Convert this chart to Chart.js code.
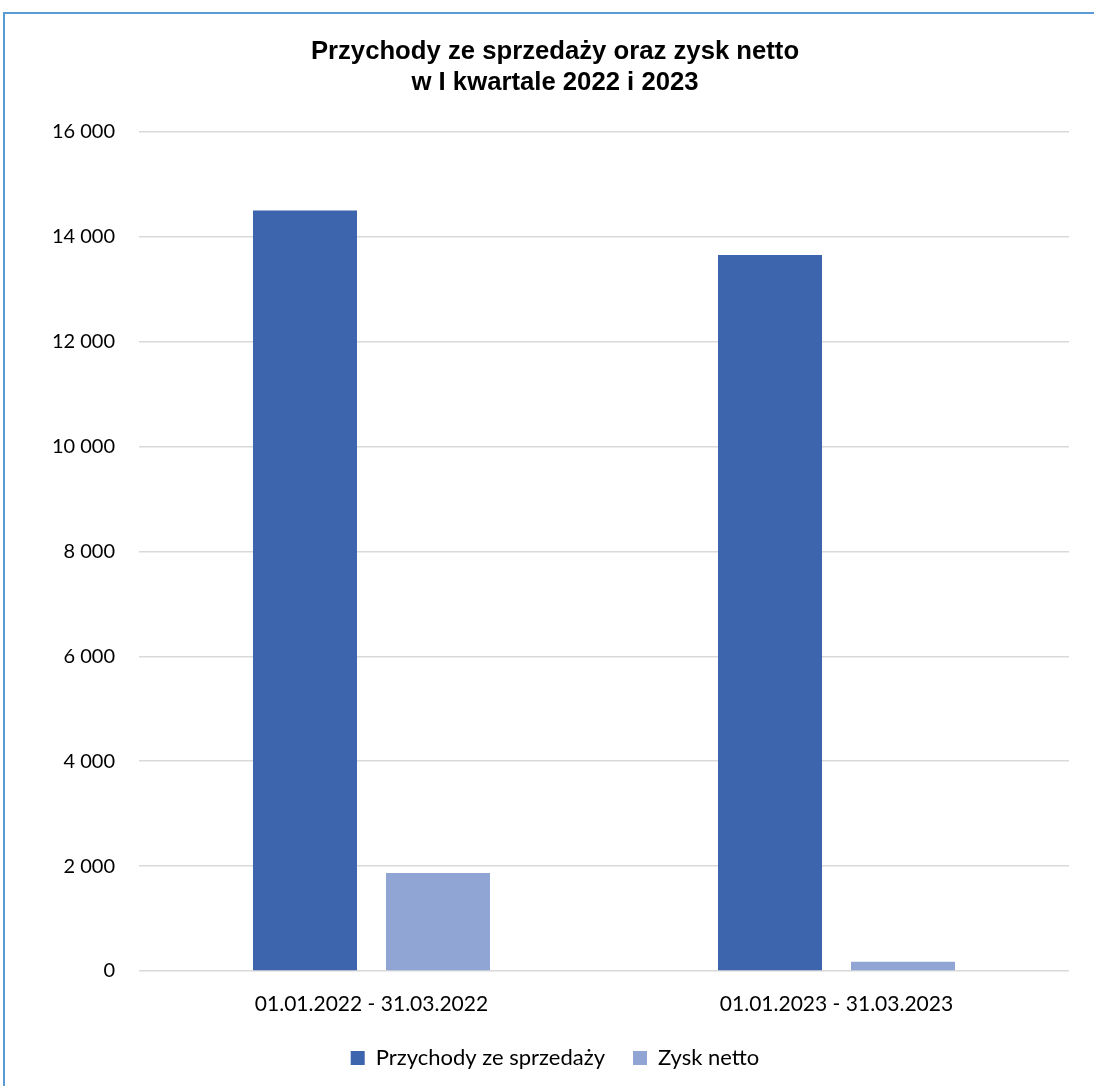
<!DOCTYPE html>
<html lang="pl">
<head>
<meta charset="utf-8">
<script src="https://cdn.jsdelivr.net/npm/chart.js@4"></script>
<style>
  html, body { margin: 0; padding: 0; background: #fff; overflow: hidden; }
  #frame {
    position: absolute; left: 3px; top: 12px;
    width: 1110px; height: 1090px;
    border-left: 2px solid #5b9bd5; border-top: 2px solid #5b9bd5;
  }
  #wrap { position: absolute; left: 0; top: 0; width: 1100px; height: 1065px; }
</style>
</head>
<body>
<div id="frame"><div id="wrap"><canvas id="chart"></canvas></div></div>
<script>
const categories = ["01.01.2022 - 31.03.2022", "01.01.2023 - 31.03.2023"];
const revenue = [14500, 13650]; // Przychody ze sprzedaży
const netProfit = [1870, 175]; // Zysk netto
const seriesNames = ["Przychody ze sprzedaży", "Zysk netto"];

const fmt = (v) => String(v).replace(/\B(?=(\d{3})+(?!\d))/g, " ");

new Chart(document.getElementById("chart"), {
  type: "bar",
  data: {
    labels: categories,
    datasets: [
      {
        label: seriesNames[0],
        data: revenue,
        backgroundColor: "#3d65ad",
        categoryPercentage: 0.572,
        barPercentage: 0.782,
      },
      {
        label: seriesNames[1],
        data: netProfit,
        backgroundColor: "#91a5d5",
        categoryPercentage: 0.572,
        barPercentage: 0.782,
      },
    ],
  },
  options: {
    responsive: true,
    maintainAspectRatio: false,
    animation: false,
    layout: { padding: 0 },
    plugins: {
      title: {
        display: true,
        text: ["Przychody ze sprzedaży oraz zysk netto", "w I kwartale 2022 i 2023"],
        color: "#000",
        font: { family: "'Liberation Sans', Arial, sans-serif", size: 25.7, weight: "bold", lineHeight: 1.22 },
        padding: { top: 22, bottom: 33 },
      },
      legend: {
        position: "bottom",
        labels: {
          boxWidth: 14,
          boxHeight: 14,
          color: "#000",
          font: { family: "Lato, sans-serif", size: 22 },
          padding: 28,
        },
      },
      tooltip: { enabled: false },
    },
    scales: {
      x: {
        grid: { display: false, drawTicks: false },
        border: { display: false },
        ticks: {
          color: "#000",
          font: { family: "Lato, sans-serif", size: 21 },
          padding: 21,
        },
        afterFit: (s) => { s.height = 48; },
      },
      y: {
        min: 0,
        max: 16000,
        grid: { color: "#d9d9d9", lineWidth: 1.5, drawTicks: false },
        border: { display: false },
        ticks: {
          stepSize: 2000,
          color: "#000",
          font: { family: "Lato, sans-serif", size: 20 },
          padding: 24,
          callback: (v) => fmt(v),
        },
        afterFit: (s) => { s.width = 134; },
      },
      // empty right-hand spacer so the title and legend sit where they do in the original
      spacer: {
        position: "right",
        min: 0,
        max: 1,
        grid: { display: false, drawTicks: false },
        border: { display: false },
        ticks: { display: false },
        afterFit: (s) => { s.width = 36; },
      },
    },
  },
});
</script>
</body>
</html>
